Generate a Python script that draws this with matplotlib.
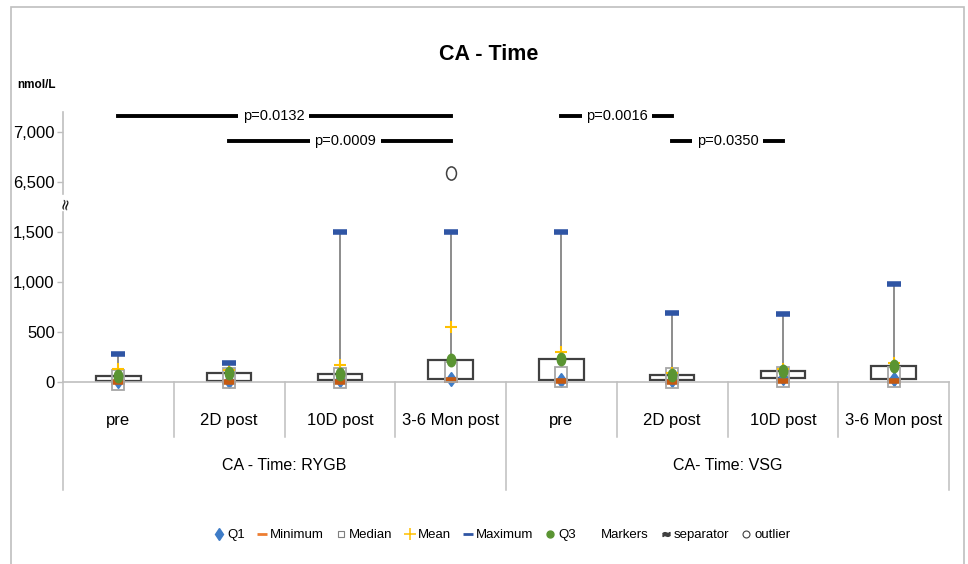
import numpy as np
import matplotlib
matplotlib.use("Agg")
import matplotlib.pyplot as plt
from matplotlib.lines import Line2D
from matplotlib.markers import MarkerStyle
from matplotlib.patches import Rectangle
from matplotlib.transforms import Affine2D

plt.rcParams["font.family"] = ["Liberation Sans", "DejaVu Sans"]

# data (nmol/L)
categories = ["pre", "2D post", "10D post", "3-6 Mon post",
              "pre", "2D post", "10D post", "3-6 Mon post"]
groups = ["CA - Time: RYGB", "CA- Time: VSG"]
q1 = np.array([8, 15, 25, 35, 25, 20, 40, 35])
minimum = np.array([2, 5, 3, 20, 10, 5, 10, 12])
median = np.array([20, 40, 40, 105, 50, 40, 50, 50])
mean = np.array([130, 120, 175, 550, 300, 90, 130, 190])
maximum = np.array([280, 195, 1500, 1500, 1500, 690, 680, 985])
q3 = np.array([60, 90, 85, 220, 230, 75, 110, 165])
outlier_cat = [3]
outlier_val = [6590]
yticks = [0, 500, 1000, 1500, 6500, 7000]
p_pairs = [(0, 3), (1, 3), (4, 5), (5, 6)]
p_labels = ["p=0.0132", "p=0.0009", "p=0.0016", "p=0.0350"]


def brk(v):
    # broken axis: everything above the gap is shifted down by 4500
    v = np.asarray(v, dtype=float)
    return np.where(v > 4000, v - 4500, v)


def squeezed(m, sx=0.6, sy=1.0):
    return MarkerStyle(m, transform=Affine2D().scale(sx, sy))


fig = plt.figure(figsize=(9.68, 5.64), dpi=100)
ax = fig.add_axes([63 / 968, 182 / 564, 886 / 968, 270 / 564])
ax.set_xlim(-0.5, 7.5)
ax.set_ylim(0, 2700)

x = np.arange(len(categories))
grid_c = "#BFBFBF"

# whiskers and boxes
ax.vlines(x, brk(q3), brk(maximum), color="#6E6E6E", lw=1.1, zorder=1)
ax.vlines(x, brk(minimum), brk(q1), color="#6E6E6E", lw=1.1, zorder=1)
ax.bar(x, brk(q3) - brk(q1), bottom=brk(q1), width=0.4, facecolor="white",
       edgecolor="#404040", lw=1.6, zorder=2)

kw = dict(linestyle="none", clip_on=False)
ax.plot(x, brk(q1), marker=squeezed("D", 0.7), ms=7, color="#3E7CC7", zorder=3, **kw)
ax.plot(x, brk(minimum), marker="_", ms=9.5, mew=4, color="#C55A11", zorder=4, **kw)
ax.plot(x, brk(median), marker=squeezed("s", 0.55), ms=15, mfc="none", mec="#A6A6A6",
        mew=1.3, zorder=5, **kw)
ax.plot(x, brk(mean), marker="+", ms=9, mew=1.5, color="#FFC000", zorder=6, **kw)
ax.plot(x, brk(maximum), marker="_", ms=9.5, mew=4, color="#2F55A4", zorder=7, **kw)
ax.plot(x, brk(q3), marker=squeezed("o", 0.68), ms=9, color="#5A9432", zorder=8, **kw)
ax.plot(outlier_cat, brk(outlier_val), marker=squeezed("o", 0.75), ms=9.5, mfc="white",
        mec="#404040", mew=1.1, zorder=8, **kw)

# axes styling
for s in ["top", "right", "left"]:
    ax.spines[s].set_visible(False)
ax.spines["bottom"].set_color(grid_c)
ax.spines["bottom"].set_linewidth(1.2)
ax.set_xticks([])
ax.set_yticks(brk(yticks))
ax.set_yticklabels([f"{t:,}" for t in yticks], fontsize=12)
ax.tick_params(axis="y", length=4, color=grid_c, width=1, pad=2)

# y axis line with a gap at the separator
ax.plot([-0.5, -0.5], [0, 1700], color=grid_c, lw=1.2, clip_on=False)
ax.plot([-0.5, -0.5], [1880, 2700], color=grid_c, lw=1.2, clip_on=False)
ax.text(-0.48, 1790, "\u2248", rotation=80, ha="center", va="center", fontsize=11,
        family=["DejaVu Sans"])

# category axis dividers and labels
for i in range(len(categories) + 1):
    depth = -1080 if i % 4 == 0 else -550
    ax.plot([i - 0.5, i - 0.5], [0, depth], color=grid_c, lw=1.1, clip_on=False)
for i, c in enumerate(categories):
    ax.text(i, -380, c, ha="center", va="center", fontsize=12)
for g, name in enumerate(groups):
    ax.text(g * 4 + 1.5, -840, name, ha="center", va="center", fontsize=11.5)

# significance bars
levels = [2660, 2410, 2660, 2410]
offsets = [-0.1, 0.05, 0, 0]
for (a, b), lab, lev, off in zip(p_pairs, p_labels, levels, offsets):
    ax.plot([a, b], [lev, lev], color="black", lw=2.8, clip_on=False, zorder=9)
    ax.text((a + b) / 2 + off, lev, lab, ha="center", va="center", fontsize=10.5,
            zorder=10, bbox=dict(boxstyle="square,pad=0.3", fc="white", ec="none"))

fig.text(489 / 968, 1 - 55 / 564, "CA - Time", ha="center", va="center",
         fontsize=15.5, fontweight="bold")
fig.text(17 / 968, 1 - 85 / 564, "nmol/L", ha="left", va="center", fontsize=8.5,
         fontweight="bold")

# legend
handles = [
    Line2D([], [], ls="none", marker=squeezed("D", 0.7), ms=6, color="#3E7CC7"),
    Line2D([], [], ls="none", marker="_", ms=7, mew=2, color="#ED7D31"),
    Line2D([], [], ls="none", marker="s", ms=5, mfc="none", mec="#7F7F7F", mew=0.8),
    Line2D([], [], ls="none", marker="+", ms=9, mew=1.1, color="#FFC000"),
    Line2D([], [], ls="none", marker="_", ms=7, mew=2, color="#2F55A4"),
    Line2D([], [], ls="none", marker="o", ms=5, color="#5A9432"),
    Line2D([], [], ls="none"),
    Line2D([], [], ls="none", marker="$\\approx$", ms=5, color="#404040"),
    Line2D([], [], ls="none", marker="o", ms=5, mfc="white", mec="#404040", mew=0.8),
]
labels = ["Q1", "Minimum", "Median", "Mean", "Maximum", "Q3", "Markers", "separator",
          "outlier"]
fig.legend(handles, labels, loc="center", bbox_to_anchor=(503 / 968, 1 - 535 / 564),
           ncol=9, frameon=False, fontsize=9.5, handlelength=0.6, handletextpad=0.3,
           columnspacing=1.0)

# chart frame
fig.add_artist(Rectangle((11 / 968, -0.02), (964 - 11) / 968, 1 - 7 / 564 + 0.02,
                         transform=fig.transFigure, fill=False, ec=grid_c, lw=1.2))

fig.savefig("out.png", dpi=100)
